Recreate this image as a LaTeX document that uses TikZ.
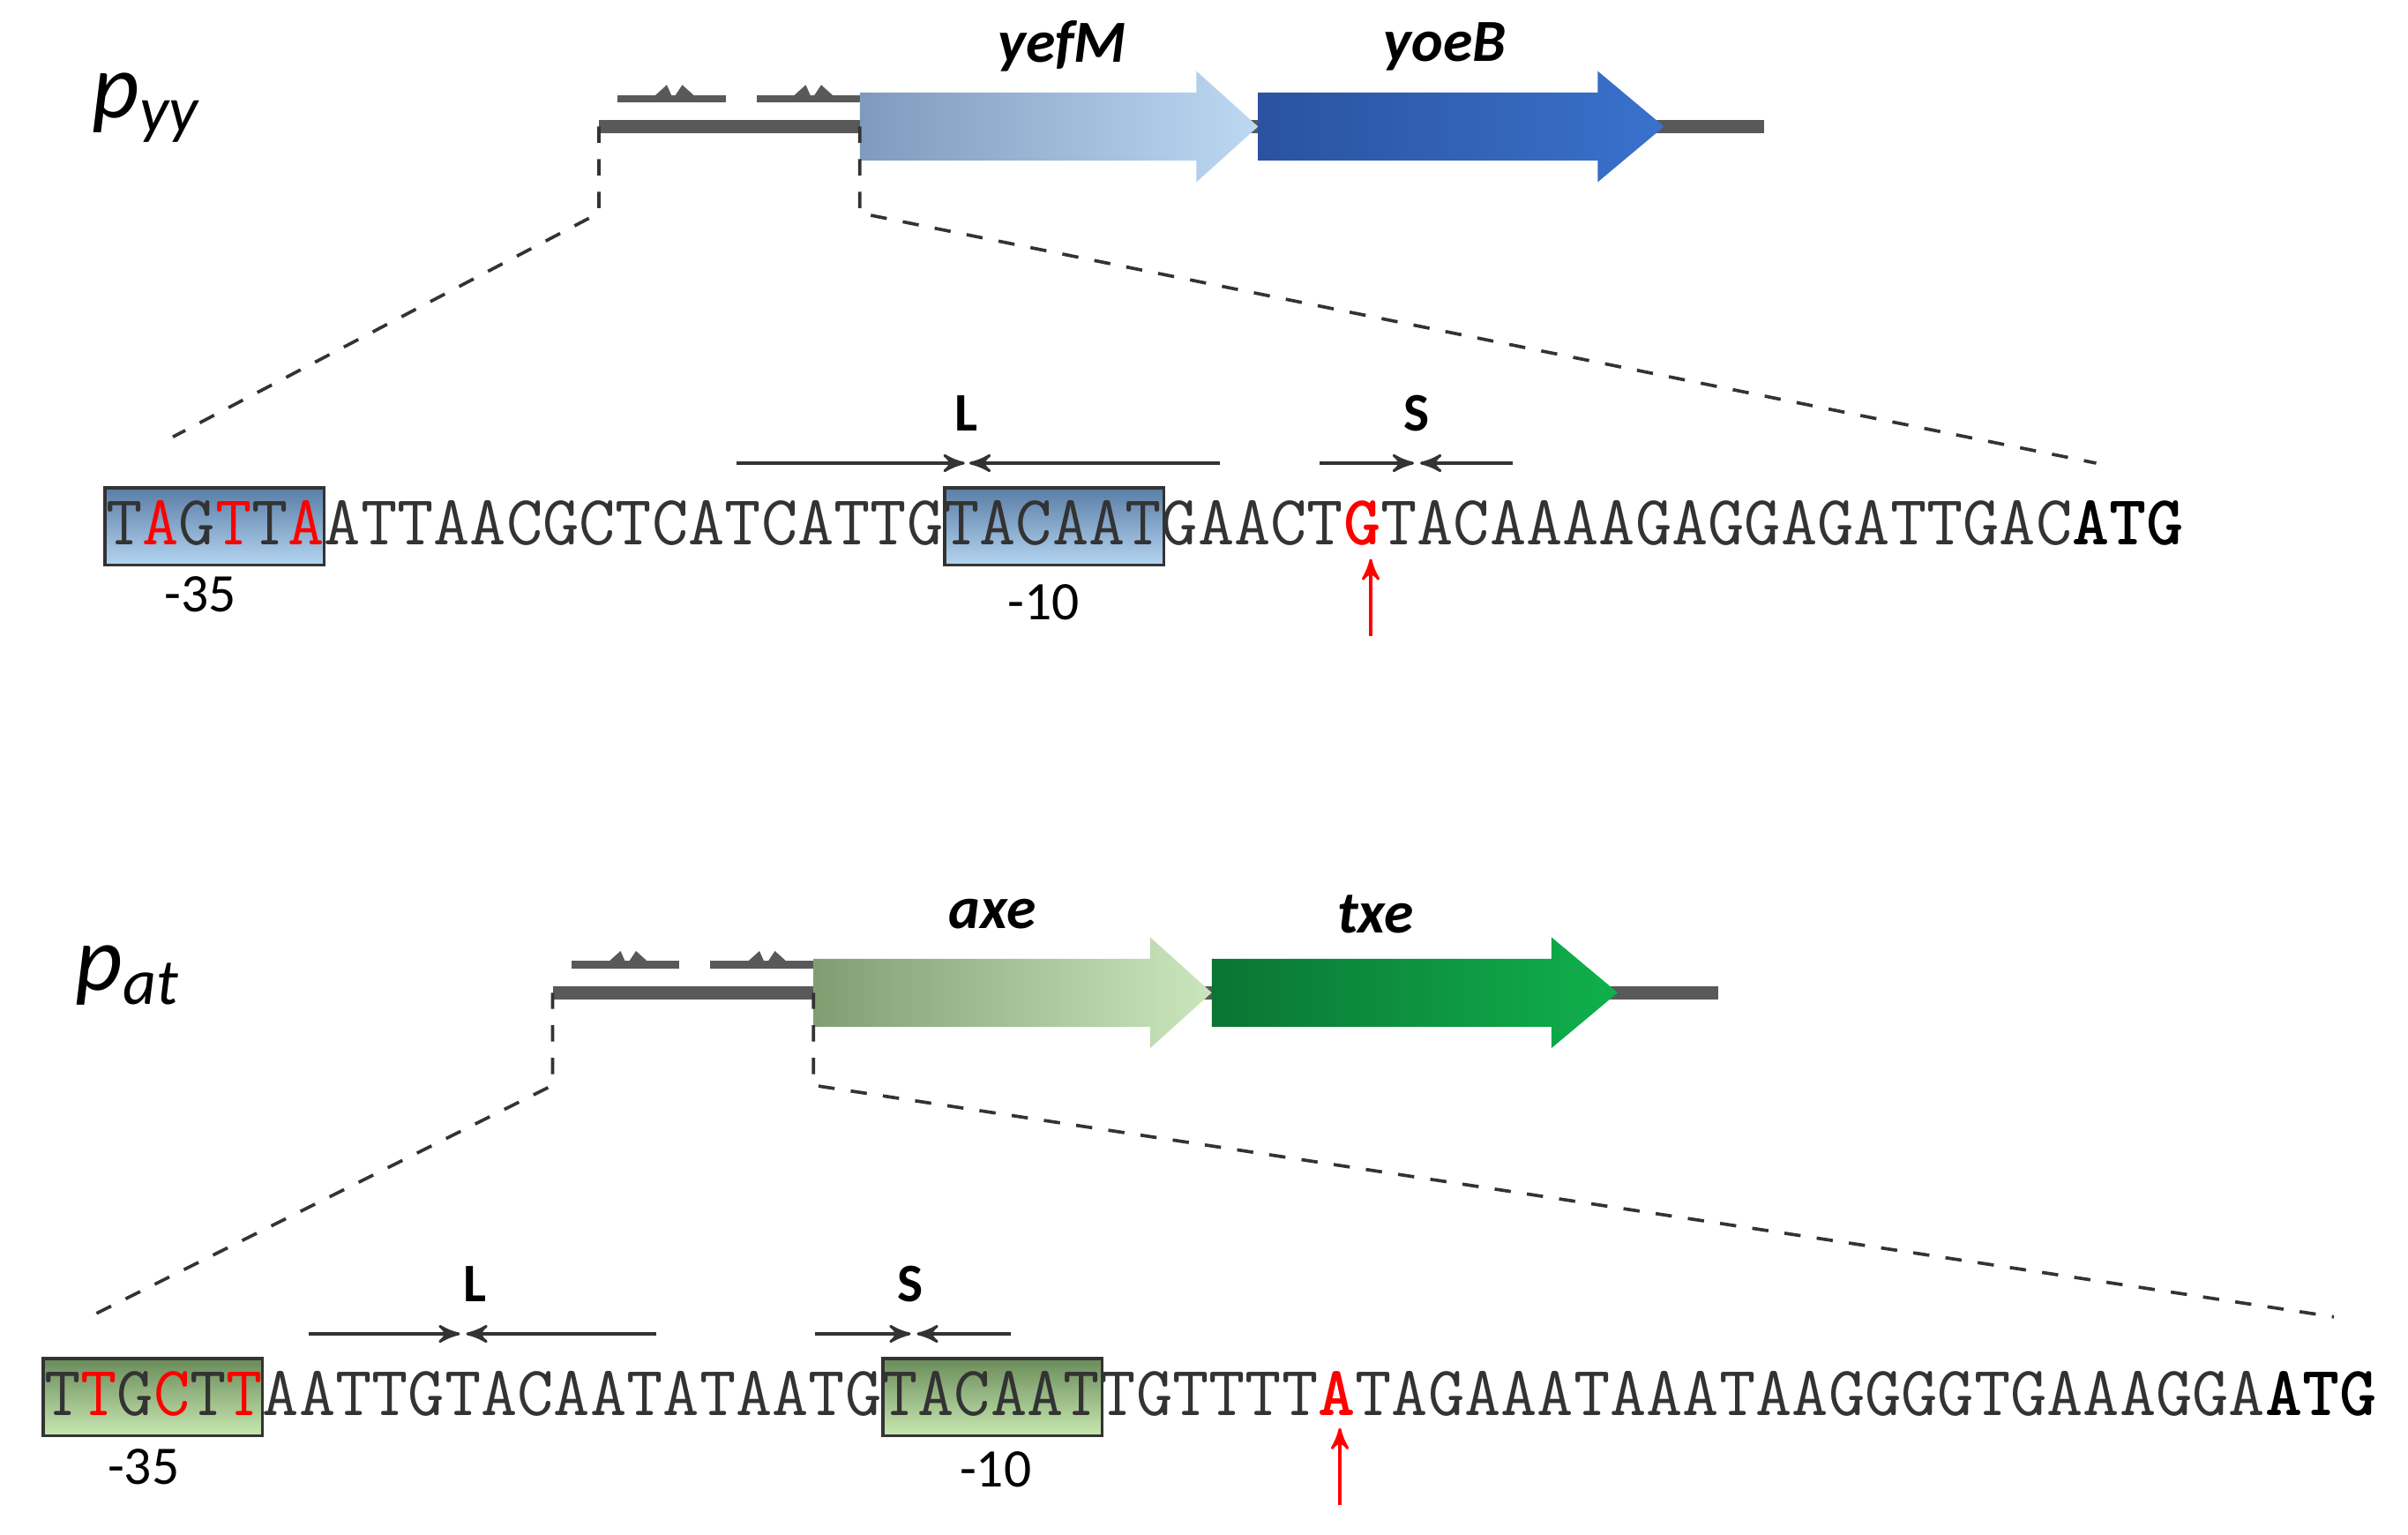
\documentclass[tikz,border=0pt]{standalone}
\usepackage{fontspec}
\setmainfont{Carlito}
\usetikzlibrary{arrows,positioning,shapes.geometric}

\definecolor{yefL}{HTML}{7E9BBE}
\definecolor{yefR}{HTML}{BCD8F2}
\definecolor{yoeL}{HTML}{2A52A0}
\definecolor{yoeR}{HTML}{3A72CC}
\definecolor{axeL}{HTML}{7F9F72}
\definecolor{axeR}{HTML}{CBE6BC}
\definecolor{txeL}{HTML}{0B7433}
\definecolor{txeR}{HTML}{0FB04C}
\definecolor{bboxT}{HTML}{5A7DA6}
\definecolor{bboxB}{HTML}{B4D4F0}
\definecolor{gboxT}{HTML}{6A8C5A}
\definecolor{gboxB}{HTML}{C8E8B2}

\tikzset{
  dna/.style={line width=2.5pt,color=black!65},
  zoom/.style={dashed,line width=0.6pt,color=black!80},
  seq/.style={anchor=base west,inner sep=0pt,font=\ttfamily\fontsize{13.02}{14}\selectfont,color=black!80},
  box/.style={draw=black!80,line width=0.6pt},
  lab/.style={font=\fontsize{10}{12}\selectfont},
  site/.style={font=\bfseries\fontsize{10}{12}\selectfont},
  gene/.style={font=\bfseries\itshape\fontsize{11}{13}\selectfont},
  prom/.style={font=\itshape\fontsize{17}{20}\selectfont},
  pal/.style={->,>=stealth',line width=0.5pt,color=black!80},
  tss/.style={->,>=stealth',line width=0.5pt,color=red}
}
\newcommand{\rd}[1]{\textcolor{red}{#1}}
\newcommand{\gop}[2]{% operator marks on the upstream line
  \fill[black!65] (#1,#2-2.5) rectangle (#1+70,#2+2.5);
  \fill[black!65] (#1+22,#2) -- (#1+32,#2-9) -- (#1+36,#2) -- cycle;
  \fill[black!65] (#1+36,#2) -- (#1+42,#2-9) -- (#1+52,#2) -- cycle;
}
\newcommand{\genearrow}[6]{% x0, x1, y, head start, left colour, right colour
  \shade[left color=#5,right color=#6]
    (#1,#3-22) -- (#4,#3-22) -- (#4,#3-36) -- (#2,#3) -- (#4,#3+36) -- (#4,#3+22) -- (#1,#3+22) -- cycle;
}

\begin{document}
\begin{tikzpicture}[x=0.01cm,y=-0.01cm]
\useasboundingbox (0,0) rectangle (1560,994);
%% p_yy
  \node[prom] (pyy) at (95,70) {p\textsubscript{\fontsize{12}{14}\selectfont yy}};
  \draw[dna] (388,82) -- (1143,82);
  \gop{400}{64}
  \gop{490}{64}
  \genearrow{557}{815}{82}{775}{yefL}{yefR}
  \genearrow{815}{1078}{82}{1035}{yoeL}{yoeR}
  \node[gene] (yefM) at (688,30) {yefM};
  \node[gene] (yoeB) at (936,30) {yoeB};
  \coordinate (ya) at (388,82);
  \coordinate (yb) at (557,82);
  \coordinate (yc) at (112,283);
  \coordinate (yd) at (1358,300);
  \draw[zoom] (ya) -- ++(0,56) -- (yc);
  \draw[zoom] (yb) -- ++(0,56) -- (yd);
  \shade[box,top color=bboxT,bottom color=bboxB] (68,316) rectangle (210,366);
  \shade[box,top color=bboxT,bottom color=bboxB] (612,316) rectangle (754,366);
  \node[seq] (s1) at (68,353) {T\rd{A}G\rd{T}T\rd{A}ATTAACGCTCATCATTGTACAATGAACT\textcolor{red}{\textbf{G}}TACAAAAGAGGAGATTGAC\textcolor{black}{\textbf{ATG}}};
  \node[lab] (m35a) at (130,385) {-35};
  \node[lab] (m10a) at (676,390) {-10};
  \node[site] (La) at (626,268) {L};
  \node[site] (Sa) at (918,268) {S};
  \coordinate (la1) at (477,300); \coordinate (la2) at (625,300);
  \coordinate (la3) at (790,300); \coordinate (la4) at (628,300);
  \coordinate (sa1) at (855,300); \coordinate (sa2) at (916,300);
  \coordinate (sa3) at (980,300); \coordinate (sa4) at (920,300);
  \draw[pal] (la1) -- (la2); \draw[pal] (la3) -- (la4);
  \draw[pal] (sa1) -- (sa2); \draw[pal] (sa3) -- (sa4);
  \coordinate (ta1) at (888,412); \coordinate (ta2) at (888,362);
  \draw[tss] (ta1) -- (ta2);
%% p_at
  \node[prom] (pat) at (83,632) {p\textsubscript{\fontsize{12}{14}\selectfont at}};
  \draw[dna] (358,643) -- (1113,643);
  \gop{370}{625}
  \gop{460}{625}
  \genearrow{527}{785}{643}{745}{axeL}{axeR}
  \genearrow{785}{1048}{643}{1005}{txeL}{txeR}
  \node[gene] (axe) at (643,592) {axe};
  \node[gene] (txe) at (891,592) {txe};
  \coordinate (aa) at (358,643);
  \coordinate (ab) at (527,643);
  \coordinate (ac) at (58,853);
  \coordinate (ad) at (1512,853);
  \draw[zoom] (aa) -- ++(0,60) -- (ac);
  \draw[zoom] (ab) -- ++(0,60) -- (ad);
  \shade[box,top color=gboxT,bottom color=gboxB] (28,880) rectangle (170,930);
  \shade[box,top color=gboxT,bottom color=gboxB] (572,880) rectangle (714,930);
  \node[seq] (s2) at (28,917) {T\rd{T}G\rd{C}T\rd{T}AATTGTACAATATAATGTACAATTGTTTT\textcolor{red}{\textbf{A}}TAGAAATAAATAAGGGGTGAAAGGA\textcolor{black}{\textbf{ATG}}};
  \node[lab] (m35b) at (93,950) {-35};
  \node[lab] (m10b) at (645,952) {-10};
  \node[site] (Lb) at (308,832) {L};
  \node[site] (Sb) at (590,832) {S};
  \coordinate (lb1) at (200,864); \coordinate (lb2) at (298,864);
  \coordinate (lb3) at (425,864); \coordinate (lb4) at (302,864);
  \coordinate (sb1) at (528,864); \coordinate (sb2) at (590,864);
  \coordinate (sb3) at (655,864); \coordinate (sb4) at (594,864);
  \draw[pal] (lb1) -- (lb2); \draw[pal] (lb3) -- (lb4);
  \draw[pal] (sb1) -- (sb2); \draw[pal] (sb3) -- (sb4);
  \coordinate (tb1) at (868,975); \coordinate (tb2) at (868,925);
  \draw[tss] (tb1) -- (tb2);
%
\end{tikzpicture}
\end{document}
